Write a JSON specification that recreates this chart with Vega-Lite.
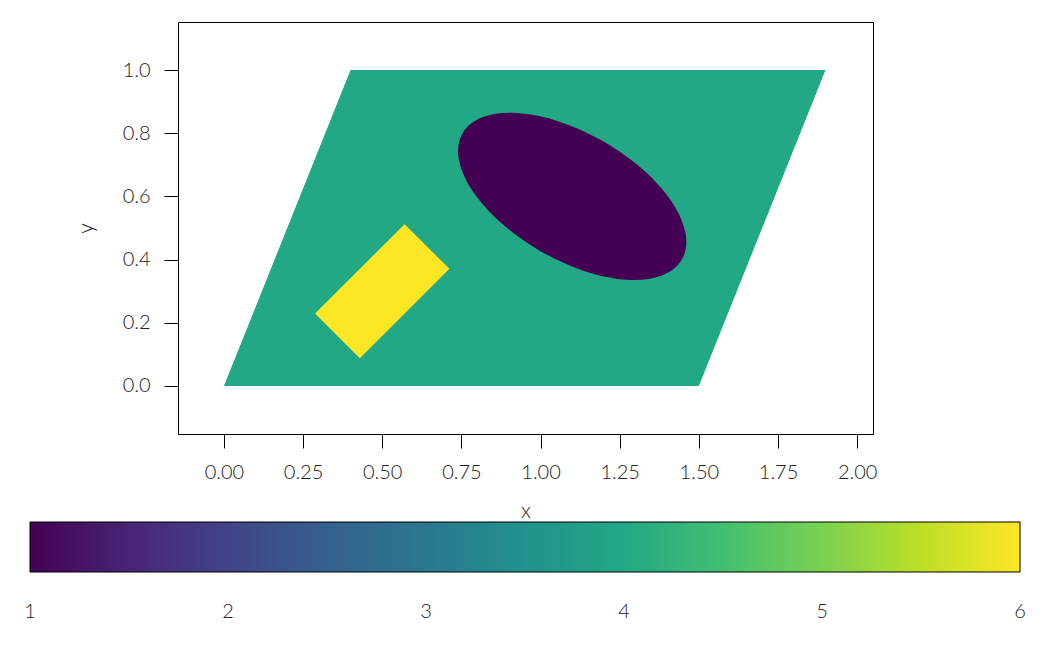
{
  "$schema": "https://vega.github.io/schema/vega-lite/v6.json",
  "width": 695,
  "height": 412,
  "autosize": "none",
  "padding": {"left": 178, "top": 22, "right": 177, "bottom": 214},
  "background": "white",
  "config": {
    "view": {"stroke": "black", "strokeWidth": 1},
    "font": "Lato",
    "axis": {
      "labelFont": "Lato", "labelFontWeight": 300, "labelFontSize": 20, "labelColor": "#222",
      "titleFont": "Lato", "titleFontWeight": 300, "titleFontSize": 21, "titleColor": "#222",
      "domainColor": "black", "tickColor": "black", "tickSize": 14, "tickWidth": 1,
      "grid": false, "labelPadding": 14
    },
    "legend": {"labelFont": "Lato", "labelFontWeight": 300, "labelFontSize": 20, "labelColor": "#222"}
  },
  "data": {"values": [
    {"shape": "parallelogram", "i": 0, "x": 0.0, "y": 0.0, "v": 4},
    {"shape": "parallelogram", "i": 1, "x": 1.5, "y": 0.0, "v": 4},
    {"shape": "parallelogram", "i": 2, "x": 1.9, "y": 1.0, "v": 4},
    {"shape": "parallelogram", "i": 3, "x": 0.4, "y": 1.0, "v": 4},
    {"shape": "ellipse", "i": 0, "x": 1.4464, "y": 0.4, "v": 1},
    {"shape": "ellipse", "i": 1, "x": 1.4583, "y": 0.4815, "v": 1},
    {"shape": "ellipse", "i": 2, "x": 1.4157, "y": 0.5811, "v": 1},
    {"shape": "ellipse", "i": 3, "x": 1.325, "y": 0.6835, "v": 1},
    {"shape": "ellipse", "i": 4, "x": 1.2, "y": 0.7732, "v": 1},
    {"shape": "ellipse", "i": 5, "x": 1.0598, "y": 0.8366, "v": 1},
    {"shape": "ellipse", "i": 6, "x": 0.9258, "y": 0.8639, "v": 1},
    {"shape": "ellipse", "i": 7, "x": 0.8182, "y": 0.8511, "v": 1},
    {"shape": "ellipse", "i": 8, "x": 0.7536, "y": 0.8, "v": 1},
    {"shape": "ellipse", "i": 9, "x": 0.7417, "y": 0.7185, "v": 1},
    {"shape": "ellipse", "i": 10, "x": 0.7843, "y": 0.6189, "v": 1},
    {"shape": "ellipse", "i": 11, "x": 0.875, "y": 0.5165, "v": 1},
    {"shape": "ellipse", "i": 12, "x": 1.0, "y": 0.4268, "v": 1},
    {"shape": "ellipse", "i": 13, "x": 1.1402, "y": 0.3634, "v": 1},
    {"shape": "ellipse", "i": 14, "x": 1.2742, "y": 0.3361, "v": 1},
    {"shape": "ellipse", "i": 15, "x": 1.3818, "y": 0.3489, "v": 1},
    {"shape": "rectangle", "i": 0, "x": 0.2879, "y": 0.2293, "v": 6},
    {"shape": "rectangle", "i": 1, "x": 0.5707, "y": 0.5121, "v": 6},
    {"shape": "rectangle", "i": 2, "x": 0.7121, "y": 0.3707, "v": 6},
    {"shape": "rectangle", "i": 3, "x": 0.4293, "y": 0.0879, "v": 6}
  ]},
  "encoding": {
    "x": {"field": "x", "type": "quantitative",
      "scale": {"domain": [-0.145, 2.05], "nice": false, "zero": false},
      "axis": {"values": [0, 0.25, 0.5, 0.75, 1, 1.25, 1.5, 1.75, 2], "format": ".2f", "title": "x", "titlePadding": 18}},
    "y": {"field": "y", "type": "quantitative",
      "scale": {"domain": [-0.152, 1.152], "nice": false, "zero": false},
      "axis": {"values": [0, 0.2, 0.4, 0.6, 0.8, 1], "format": ".1f", "title": "y", "titlePadding": 26}},
    "color": {"field": "v", "type": "quantitative",
      "scale": {"scheme": "viridis", "domain": [1, 6]},
      "legend": {"orient": "none", "legendX": -148, "legendY": 500, "direction": "horizontal",
        "gradientLength": 990, "gradientThickness": 50, "title": null, "format": "d",
        "values": [1, 2, 3, 4, 5, 6], "labelAlign": "center", "labelOffset": 30,
        "labelColor": "#222",
        "gradientStrokeColor": "black", "gradientStrokeWidth": 1,
        "encode": {"labels": {"update": {"align": {"value": "center"}, "fill": {"value": "#222"}, "opacity": {"value": 1}}}}}},
    "order": {"field": "i", "type": "quantitative"}
  },
  "layer": [
    {"transform": [{"filter": "datum.shape === 'parallelogram'"}],
     "mark": {"type": "line", "filled": true, "interpolate": "linear-closed", "strokeWidth": 0}},
    {"transform": [{"filter": "datum.shape === 'ellipse'"}],
     "mark": {"type": "line", "filled": true, "interpolate": "cardinal-closed", "strokeWidth": 0}},
    {"transform": [{"filter": "datum.shape === 'rectangle'"}],
     "mark": {"type": "line", "filled": true, "interpolate": "linear-closed", "strokeWidth": 0}}
  ]
}
